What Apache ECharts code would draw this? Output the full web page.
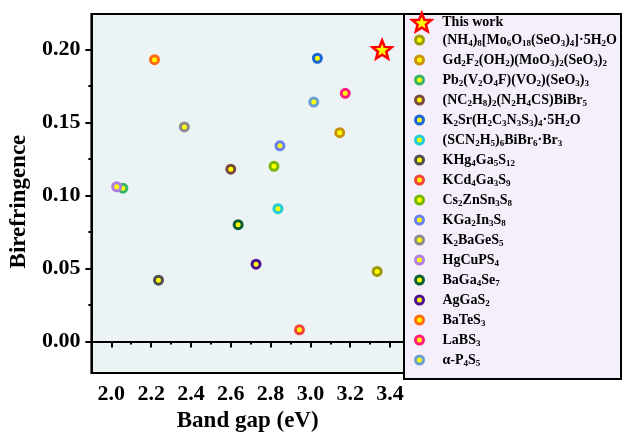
<!DOCTYPE html>
<html>
<head>
<meta charset="utf-8">
<script src="https://cdn.jsdelivr.net/npm/echarts@6/dist/echarts.min.js"></script>
<style>
  html, body { margin: 0; padding: 0; background: #ffffff; }
  #chart { width: 622px; height: 438px; }
</style>
</head>
<body>
<div id="chart"></div>
<script>
// Birefringence vs. band gap of selected nonlinear optical crystals
const materials = [
  'This work',
  '(NH4)8[Mo6O18(SeO3)4]·5H2O',
  'Gd2F2(OH2)(MoO3)2(SeO3)2',
  'Pb2(V2O4F)(VO2)(SeO3)3',
  '(NC2H8)2(N2H4CS)BiBr5',
  'K2Sr(H2C3N3S3)4·5H2O',
  '(SCN2H5)6BiBr6·Br3',
  'KHg4Ga5S12',
  'KCd4Ga3S9',
  'Cs2ZnSn3S8',
  'KGa2In3S8',
  'K2BaGeS5',
  'HgCuPS4',
  'BaGa4Se7',
  'AgGaS2',
  'BaTeS3',
  'LaBS3',
  'α-P4S5'
];
const bandGap = [3.36, 3.335, 3.147, 2.058, 2.60, 3.035, 2.837, 2.237, 2.945,
                 2.817, 2.847, 2.367, 2.027, 2.637, 2.727, 2.217, 3.175, 3.017];
const birefringence = [0.200, 0.048, 0.143, 0.105, 0.118, 0.194, 0.091, 0.042, 0.008,
                       0.120, 0.134, 0.147, 0.106, 0.080, 0.053, 0.193, 0.170, 0.164];

// axis ticks
const xMajorTicks = [2.0, 2.2, 2.4, 2.6, 2.8, 3.0, 3.2, 3.4];
const xMinorTicks = [1.9, 2.1, 2.3, 2.5, 2.7, 2.9, 3.1, 3.3];
const yMajorTicks = [0.00, 0.05, 0.10, 0.15, 0.20];
const yMinorTicks = [0.025, 0.075, 0.125, 0.175];

// ring colours, one per material
const palette = ['#ff0000', '#9c9a00', '#c9930f', '#35b46a', '#7a4a40', '#1a66d6', '#22cfd6',
                 '#4f4f4f', '#f2453d', '#78b800', '#6b7fef', '#8a8a8a', '#b07fe2', '#0e5e35',
                 '#4a1290', '#ff6a12', '#ff1c7c', '#6a9fd4'];

const FONT = '"Liberation Serif", "Times New Roman", serif';
const STAR = 'path://M50 0 L62.93 32.2 L97.55 34.55 L70.92 56.8 L79.39 90.45 L50 72 L20.61 90.45 L29.08 56.8 L2.45 34.55 L37.07 32.2 Z';

// chemical formula -> rich text with subscripted stoichiometric digits
function formula(name) {
  let out = '';
  let buf = '';
  let mode = 'n';
  const flush = () => { if (buf) { out += '{' + mode + '|' + buf + '}'; buf = ''; } };
  for (let i = 0; i < name.length; i++) {
    const c = name[i];
    const isDigit = c >= '0' && c <= '9';
    let m = 'n';
    if (isDigit && i > 0) {
      const p = name[i - 1];
      if (/[A-Za-z\)\]]/.test(p) || (mode === 's' && p >= '0' && p <= '9')) m = 's';
    }
    if (m !== mode) { flush(); mode = m; }
    buf += c;
  }
  flush();
  return out;
}

const series = materials.map((name, i) => ({
  name: name,
  type: 'scatter',
  symbol: i === 0 ? STAR : 'circle',
  symbolSize: i === 0 ? [19, 18] : 8,
  z: i === 0 ? 5 : 3,
  itemStyle: {
    color: '#ffff00',
    borderColor: palette[i],
    borderWidth: i === 0 ? 2.6 : 3,
    opacity: 1
  },
  emphasis: { disabled: true },
  data: [[bandGap[i], birefringence[i]]]
}));

const tickLabelStyle = { fontFamily: FONT, fontWeight: 'bold', fontSize: 22, color: '#000' };

const legendText = {
  fontFamily: FONT, fontWeight: 'bold', fontSize: 14, color: '#000',
  rich: {
    n: { fontFamily: FONT, fontWeight: 'bold', fontSize: 14, color: '#000', lineHeight: 16 },
    s: { fontFamily: FONT, fontWeight: 'bold', fontSize: 9, color: '#000', lineHeight: 16, padding: [7, 0, 0, 0] }
  }
};

const chart = echarts.init(document.getElementById('chart'), null, { renderer: 'canvas' });
chart.setOption({
  animation: false,
  backgroundColor: '#ffffff',
  graphic: [{
    type: 'rect',
    z: -10,
    shape: { x: 404, y: 14, width: 217, height: 365 },
    style: { fill: '#f4effb', stroke: '#000', lineWidth: 2 }
  }],
  grid: {
    left: 90, right: 218, top: 14, bottom: 59,
    show: true,
    backgroundColor: '#ebf3f5',
    borderColor: '#000',
    borderWidth: 2
  },
  xAxis: [{
    type: 'value',
    min: 1.9, max: 3.47,
    position: 'bottom',
    name: 'Band gap (eV)',
    nameLocation: 'middle',
    nameGap: 36,
    nameTextStyle: { fontFamily: FONT, fontWeight: 'bold', fontSize: 23, color: '#000' },
    axisLine: { show: true, lineStyle: { color: '#000', width: 2 } },
    axisTick: { show: true, length: 6, lineStyle: { color: '#000', width: 2 }, customValues: xMajorTicks },
    axisLabel: Object.assign({ margin: 10, customValues: xMajorTicks,
      formatter: v => v.toFixed(1) }, tickLabelStyle),
    splitLine: { show: false }
  }, {
    type: 'value',
    min: 1.9, max: 3.47,
    position: 'bottom',
    axisLine: { show: false },
    axisTick: { show: true, length: 3, lineStyle: { color: '#000', width: 2 }, customValues: xMinorTicks },
    axisLabel: { show: false },
    splitLine: { show: false }
  }],
  yAxis: [{
    type: 'value',
    min: -0.0216, max: 0.2243,
    position: 'left',
    name: 'Birefringence',
    nameLocation: 'middle',
    nameGap: 58,
    nameTextStyle: { fontFamily: FONT, fontWeight: 'bold', fontSize: 23, color: '#000', padding: [0, 16, 0, 0] },
    axisLine: { show: true, lineStyle: { color: '#000', width: 2 } },
    axisTick: { show: true, length: 6, lineStyle: { color: '#000', width: 2 }, customValues: yMajorTicks },
    axisLabel: Object.assign({ margin: 11, customValues: yMajorTicks,
      formatter: v => v.toFixed(2) }, tickLabelStyle),
    splitLine: { show: false }
  }, {
    type: 'value',
    min: -0.0216, max: 0.2243,
    position: 'left',
    axisLine: { show: false },
    axisTick: { show: true, length: 3, lineStyle: { color: '#000', width: 2 }, customValues: yMinorTicks },
    axisLabel: { show: false },
    splitLine: { show: false }
  }],
  legend: [{
    // highlighted entry with the star marker
    orient: 'vertical',
    left: 411,
    top: 12,
    itemWidth: 19,
    itemHeight: 18,
    padding: 0,
    selectedMode: false,
    data: materials.slice(0, 1),
    formatter: name => formula(name),
    itemStyle: { borderWidth: 2.6 },
    textStyle: Object.assign({}, legendText, { padding: [0, 0, 0, 6] })
  }, {
    orient: 'vertical',
    left: 414,
    top: 32,
    itemWidth: 8,
    itemHeight: 8,
    itemGap: 4,
    padding: 0,
    selectedMode: false,
    data: materials.slice(1),
    formatter: name => formula(name),
    itemStyle: { borderWidth: 3 },
    textStyle: Object.assign({}, legendText, { padding: [0, 0, 0, 14] })
  }],
  series: series
});
</script>
</body>
</html>
